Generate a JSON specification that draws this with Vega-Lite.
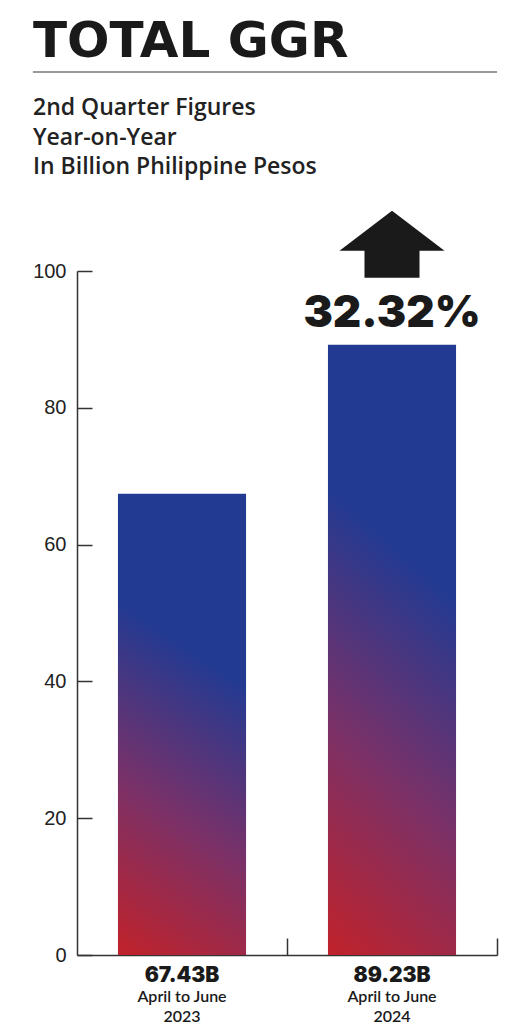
{
  "$schema": "https://vega.github.io/schema/vega-lite/v6.json",
  "width": 420,
  "height": 684,
  "autosize": {"type": "none"},
  "padding": {"left": 77, "top": 271, "right": 10, "bottom": 75},
  "background": "white",
  "config": {"view": {"stroke": null}},
  "title": {
    "text": "TOTAL GGR",
    "subtitle": ["2nd Quarter Figures", "Year-on-Year", "In Billion Philippine Pesos"],
    "anchor": "start",
    "frame": "group",
    "dx": -44,
    "dy": 108,
    "offset": 0,
    "font": "DejaVu Sans",
    "fontWeight": "bold",
    "fontSize": 50,
    "color": "#1a1a1a",
    "subtitleFont": "Open Sans",
    "subtitleFontSize": 23,
    "subtitleFontWeight": 600,
    "subtitleColor": "#222222",
    "subtitleLineHeight": 29.5,
    "subtitlePadding": 30
  },
  "data": {
    "values": [
      {"quarter": "April to June 2023", "ggr": 67.43, "label": "67.43B"},
      {"quarter": "April to June 2024", "ggr": 89.23, "label": "89.23B", "change": "32.32%"}
    ]
  },
  "layer": [
    {
      "layer": [
        {
          "mark": {
            "type": "bar",
            "width": {"band": 0.61},
            "color": {
              "gradient": "linear",
              "x1": 0, "y1": 1, "x2": 0.138, "y2": 0.26,
              "stops": [
                {"offset": 0, "color": "#c1222a"},
                {"offset": 0.5, "color": "#7a3168"},
                {"offset": 1, "color": "#233a92"}
              ]
            }
          },
          "encoding": {
            "x": {
              "field": "quarter",
              "type": "nominal",
              "scale": {"paddingInner": 0, "paddingOuter": 0},
              "axis": {
                "title": null,
                "domainColor": "#333333",
                "domainWidth": 1.5,
                "tickColor": "#333333",
                "tickWidth": 1.5,
                "tickSize": -17,
                "bandPosition": 1,
                "labelAngle": 0,
                "labelExpr": "[slice(datum.value, 0, 13), slice(datum.value, 14)]",
                "labelFont": "Lato",
                "labelFontSize": 16,
                "labelFontWeight": 600,
                "labelColor": "#1a1a1a",
                "labelPadding": 50,
                "labelLineHeight": 20
              }
            },
            "y": {
              "field": "ggr",
              "type": "quantitative",
              "scale": {"domain": [0, 100]},
              "axis": {
                "title": null,
                "values": [0, 20, 40, 60, 80, 100],
                "grid": false,
                "domainColor": "#333333",
                "domainWidth": 1.5,
                "tickColor": "#333333",
                "tickWidth": 1.5,
                "tickSize": -15,
                "labelPadding": 26,
                "labelFont": "Liberation Sans",
                "labelFontSize": 20,
                "labelColor": "#222222"
              }
            }
          }
        },
        {
          "mark": {"type": "text", "font": "Inter", "fontWeight": 900, "fontSize": 21, "baseline": "alphabetic", "dy": 27, "color": "#1a1a1a"},
          "encoding": {
            "x": {"field": "quarter", "type": "nominal"},
            "y": {"datum": 0},
            "text": {"field": "label"}
          }
        },
        {
          "transform": [{"filter": "datum.change != null"}],
          "mark": {
            "type": "point",
            "shape": "M0,-0.638L1,0.124L0.524,0.124L0.524,0.638L-0.524,0.638L-0.524,0.124L-1,0.124Z",
            "size": 11025,
            "filled": true,
            "color": "#1a1a1a",
            "opacity": 1,
            "strokeWidth": 0
          },
          "encoding": {
            "x": {"field": "quarter", "type": "nominal"},
            "y": {"datum": 103.9}
          }
        },
        {
          "transform": [{"filter": "datum.change != null"}],
          "mark": {"type": "text", "font": "Inter", "fontWeight": 900, "fontSize": 44, "baseline": "alphabetic", "color": "#1a1a1a"},
          "encoding": {
            "x": {"field": "quarter", "type": "nominal"},
            "y": {"datum": 91.8},
            "text": {"field": "change"}
          }
        }
      ]
    },
    {
      "data": {"values": [{"part": "divider"}]},
      "mark": {"type": "rule", "color": "#777777", "strokeWidth": 1.5},
      "encoding": {
        "x": {"datum": -0.105, "type": "quantitative", "scale": {"domain": [0, 1]}, "axis": null},
        "x2": {"datum": 1},
        "y": {"datum": 129.1}
      }
    }
  ],
  "resolve": {"scale": {"x": "independent"}}
}
